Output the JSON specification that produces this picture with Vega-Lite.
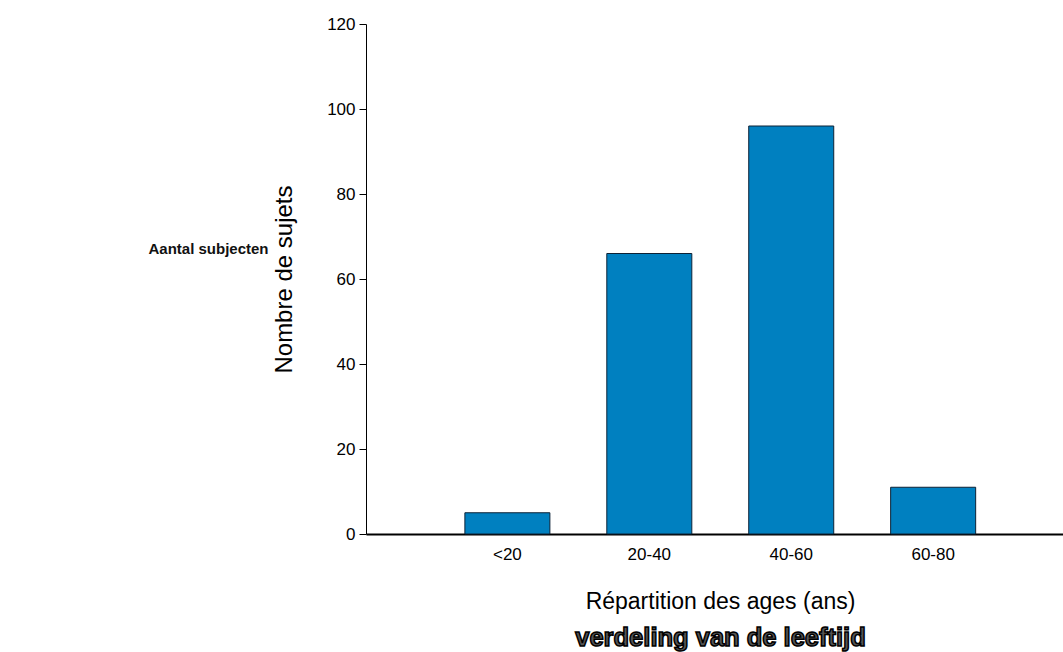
{
  "$schema": "https://vega.github.io/schema/vega-lite/v6.json",
  "width": 697,
  "height": 510,
  "autosize": {"type": "none"},
  "padding": {"left": 366, "top": 24, "right": 0, "bottom": 118},
  "background": "white",
  "config": {
    "view": {"stroke": null},
    "font": "Liberation Sans",
    "style": {"group-subtitle": {"stroke": "#000000", "strokeWidth": 1.5}}
  },
  "title": {
    "text": "Répartition des ages (ans)",
    "subtitle": "verdeling van de leeftijd",
    "orient": "bottom",
    "anchor": "middle",
    "frame": "group",
    "dx": 6,
    "offset": 29,
    "font": "Liberation Sans",
    "fontSize": 23,
    "fontWeight": "normal",
    "color": "#000000",
    "subtitleFont": "Liberation Sans",
    "subtitleFontSize": 25.5,
    "subtitleFontWeight": "bold",
    "subtitleColor": "#555555",
    "subtitlePadding": 12
  },
  "data": {
    "values": [
      {"age": "<20", "n": 5},
      {"age": "20-40", "n": 66},
      {"age": "40-60", "n": 96},
      {"age": "60-80", "n": 11}
    ]
  },
  "layer": [
    {
      "mark": {"type": "bar", "fill": "#0080C0", "stroke": "#0d2236", "strokeWidth": 1},
      "encoding": {
        "x": {
          "field": "age",
          "type": "nominal",
          "sort": null,
          "scale": {"paddingInner": 0.401, "paddingOuter": 0.656, "align": 0.531},
          "axis": {
            "title": null,
            "labelAngle": 0,
            "ticks": false,
            "domainWidth": 2,
            "domainColor": "#000000",
            "labelColor": "#000000",
            "labelFontSize": 17,
            "labelPadding": 12
          }
        },
        "y": {
          "field": "n",
          "type": "quantitative",
          "scale": {"domain": [0, 120], "nice": false},
          "axis": {
            "values": [0, 20, 40, 60, 80, 100, 120],
            "grid": false,
            "tickSize": 7,
            "tickColor": "#000000",
            "domainColor": "#000000",
            "labelColor": "#000000",
            "labelFontSize": 17,
            "labelPadding": 4,
            "title": "Nombre de sujets",
            "titleFontSize": 24,
            "titleFontWeight": "normal",
            "titleColor": "#000000",
            "titlePadding": 30
          }
        }
      }
    },
    {
      "mark": {"type": "bar", "opacity": 0},
      "encoding": {
        "y": {
          "field": "n",
          "type": "quantitative",
          "axis": {
            "orient": "left",
            "labels": false,
            "ticks": false,
            "domain": false,
            "grid": false,
            "title": "Aantal subjecten",
            "titleAngle": 0,
            "titleX": -218,
            "titleY": 224,
            "titleAlign": "left",
            "titleBaseline": "middle",
            "titleFont": "Liberation Sans",
            "titleFontSize": 15,
            "titleFontWeight": "bold",
            "titleColor": "#111111"
          }
        }
      }
    }
  ],
  "resolve": {"axis": {"y": "independent"}}
}
